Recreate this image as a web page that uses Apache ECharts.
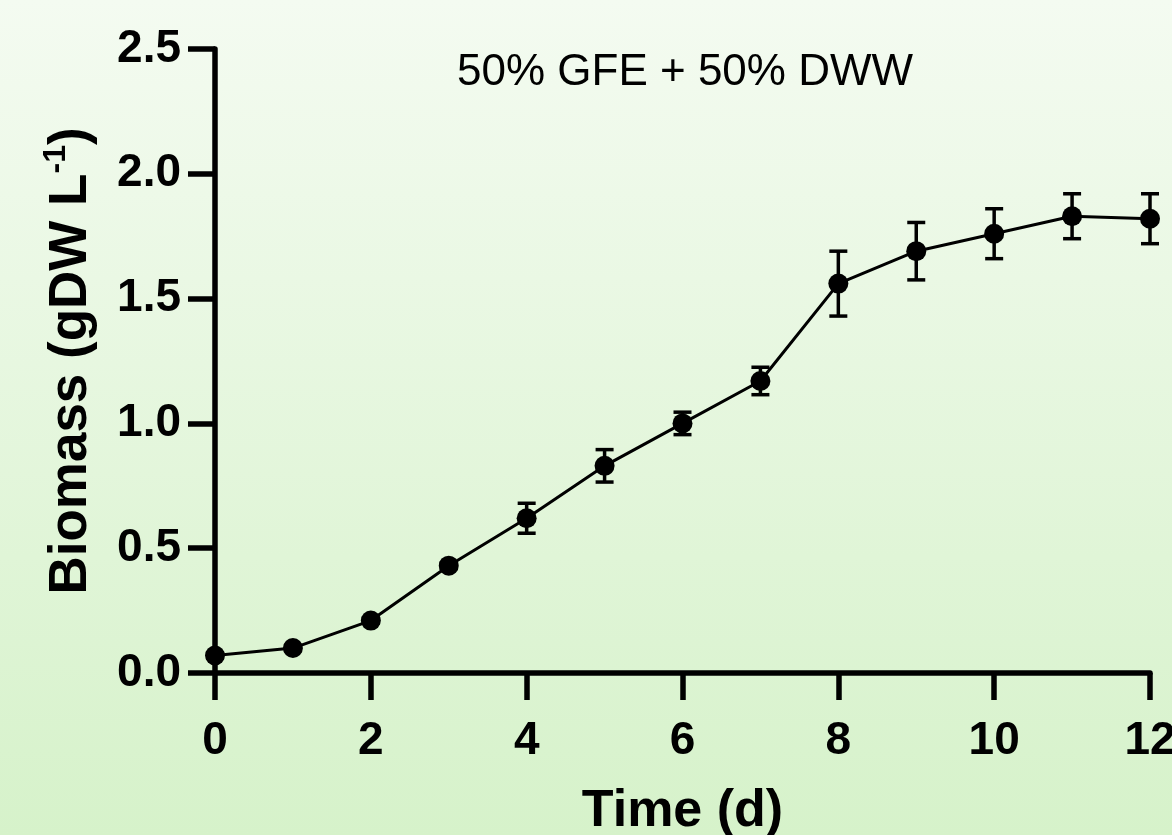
<!DOCTYPE html>
<html>
<head>
<meta charset="utf-8">
<script src="https://cdn.jsdelivr.net/npm/echarts@6/dist/echarts.min.js"></script>
<style>
  html, body { margin: 0; padding: 0; }
  #main { width: 1172px; height: 835px; }
</style>
</head>
<body>
<div id="main"></div>
<script>
// growth curve, 50% GFE + 50% DWW
var timeDays = [0, 1, 2, 3, 4, 5, 6, 7, 8, 9, 10, 11, 12]
var biomassMean = [0.07, 0.10, 0.21, 0.43, 0.62, 0.83, 1.00, 1.17, 1.56, 1.69, 1.76, 1.83, 1.82]
var biomassErr = [0.01, 0.01, 0.01, 0.01, 0.06, 0.065, 0.045, 0.055, 0.13, 0.115, 0.10, 0.09, 0.10]
var xTicks = [0, 2, 4, 6, 8, 10, 12]
var yTicks = [0.0, 0.5, 1.0, 1.5, 2.0, 2.5]

var pts = timeDays.map(function (t, i) { return [t, biomassMean[i]] })
var bars = timeDays.map(function (t, i) {
    return [t, biomassMean[i] - biomassErr[i], biomassMean[i] + biomassErr[i]]
})

var font = '"Liberation Sans", Arial, sans-serif'

var option = {
    backgroundColor: new echarts.graphic.LinearGradient(0, 0, 0, 1, [
        { offset: 0, color: '#f4fbf1' },
        { offset: 1, color: '#d6f2ca' }
    ]),
    animation: false,
    title: {
        text: '50% GFE + 50% DWW',
        left: 452,
        top: 46,
        textStyle: { fontFamily: font, fontWeight: 'normal', fontSize: 44, color: '#000' }
    },
    grid: { left: 215, right: 22, top: 49, bottom: 162, containLabel: false, outerBoundsMode: 'none' },
    xAxis: {
        type: 'value',
        min: xTicks[0],
        max: xTicks[xTicks.length - 1],
        interval: 2,
        name: 'Time (d)',
        nameLocation: 'middle',
        nameGap: 113,
        nameTextStyle: { fontFamily: font, fontWeight: 'bold', fontSize: 52, color: '#000' },
        axisLine: { show: true, onZero: false, lineStyle: { color: '#000', width: 5.5 } },
        axisTick: { show: true, length: 27, lineStyle: { color: '#000', width: 5.5 } },
        axisLabel: {
            fontFamily: font, fontWeight: 'bold', fontSize: 46, color: '#000', margin: 45,
            formatter: function (v) { return xTicks.indexOf(v) >= 0 ? String(v) : '' }
        },
        splitLine: { show: false }
    },
    yAxis: {
        type: 'value',
        min: yTicks[0],
        max: yTicks[yTicks.length - 1],
        interval: 0.5,
        name: '{a|Biomass (gDW L}{s|-1}{a|)}',
        nameLocation: 'middle',
        nameGap: 113,
        nameTextStyle: {
            rich: {
                a: { fontFamily: font, fontWeight: 'bold', fontSize: 53, color: '#000' },
                s: { fontFamily: font, fontWeight: 'bold', fontSize: 32, color: '#000', padding: [0, 0, 30, 0] }
            }
        },
        axisLine: { show: true, onZero: false, lineStyle: { color: '#000', width: 5.5 } },
        axisTick: { show: true, length: 27, lineStyle: { color: '#000', width: 5.5 } },
        axisLabel: {
            fontFamily: font, fontWeight: 'bold', fontSize: 46, color: '#000', margin: 34,
            formatter: function (v) { return v.toFixed(1) }
        },
        splitLine: { show: false }
    },
    series: [
        {
            type: 'custom',
            name: 'err',
            data: bars,
            z: 3,
            renderItem: function (params, api) {
                var x = api.value(0)
                var lo = api.coord([x, api.value(1)])
                var hi = api.coord([x, api.value(2)])
                var w = 9
                var st = { stroke: '#000', lineWidth: 3.5 }
                return {
                    type: 'group',
                    children: [
                        { type: 'line', shape: { x1: lo[0], y1: lo[1], x2: hi[0], y2: hi[1] }, style: st },
                        { type: 'line', shape: { x1: lo[0] - w, y1: lo[1], x2: lo[0] + w, y2: lo[1] }, style: st },
                        { type: 'line', shape: { x1: hi[0] - w, y1: hi[1], x2: hi[0] + w, y2: hi[1] }, style: st }
                    ]
                }
            }
        },
        {
            type: 'line',
            name: 'Biomass',
            data: pts,
            z: 4,
            symbol: 'circle',
            symbolSize: 20,
            lineStyle: { color: '#000', width: 3 },
            itemStyle: { color: '#000' }
        }
    ]
}

var myChart = echarts.init(document.getElementById('main'))
myChart.setOption(option)
</script>
</body>
</html>
